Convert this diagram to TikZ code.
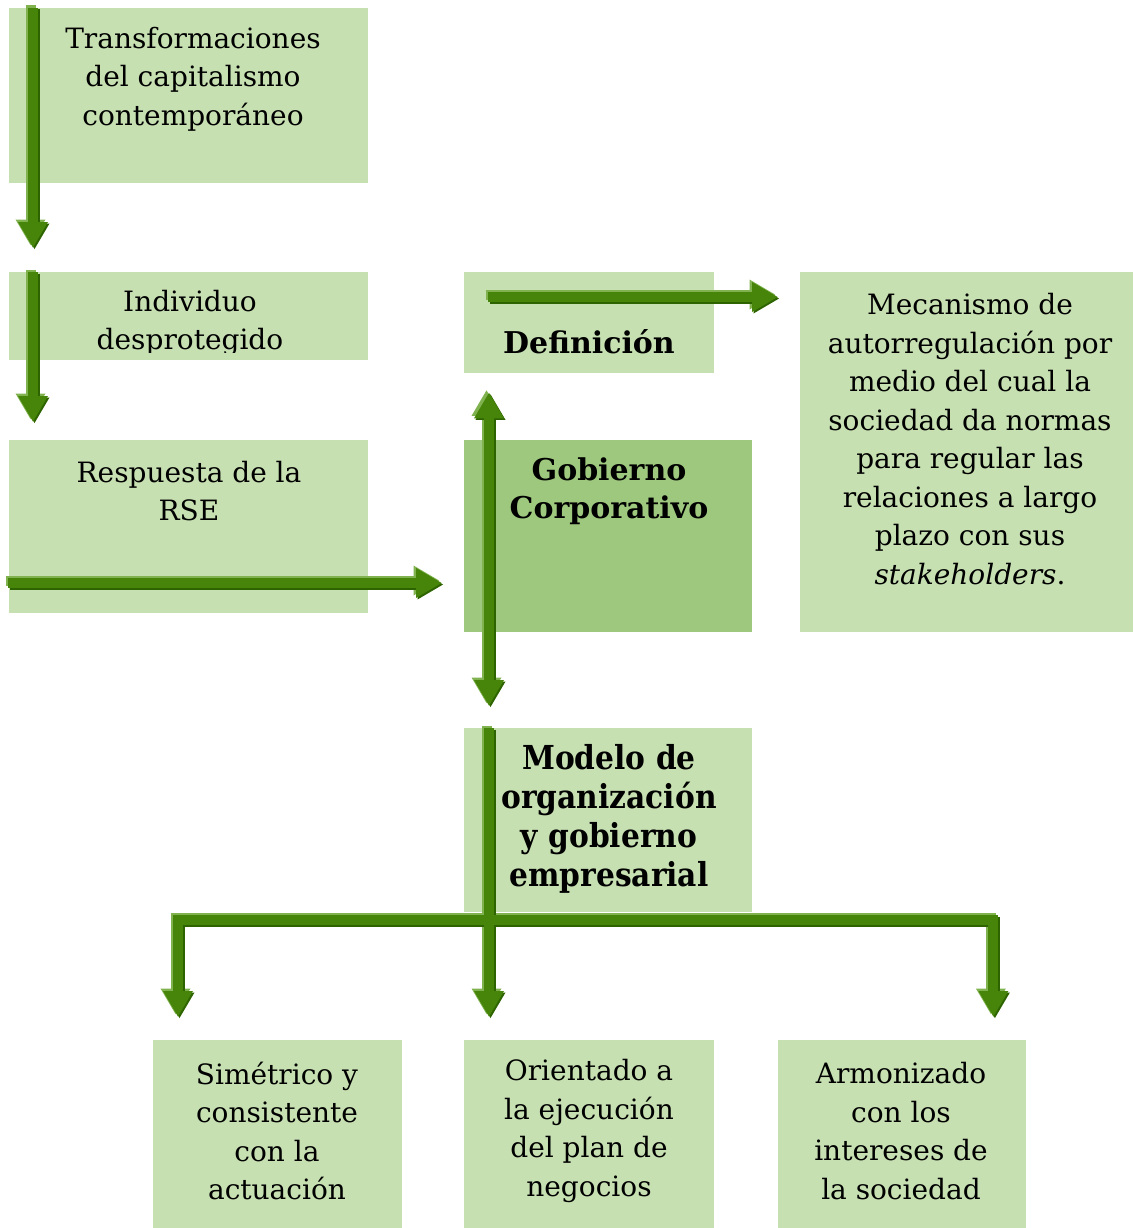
\documentclass[tikz,border=0pt]{standalone}
\usepackage{fontspec}
\setmainfont{DejaVu Serif}
\usetikzlibrary{arrows.meta,calc}
\definecolor{boxlight}{RGB}{198,224,178}
\definecolor{boxdark}{RGB}{158,200,126}
\definecolor{arrmain}{RGB}{70,132,10}
\definecolor{arrlight}{RGB}{128,178,80}
\definecolor{arrdark}{RGB}{46,100,0}
\tikzset{
  box/.style={fill=boxlight, draw=none, anchor=north west, inner sep=0pt},
  boxd/.style={fill=boxdark, draw=none, anchor=north west, inner sep=0pt},
  txt/.style={align=center, inner sep=0pt, font=\fontsize{28}{38.5}\selectfont},
  btxt/.style={txt, font=\fontsize{30}{38.5}\selectfont\bfseries},
  ctxt/.style={txt, font=\fontsize{33}{38.8}\selectfont\bfseries},
  fatlight/.style={draw=arrlight, line width=10pt, line join=miter,
    transform canvas={shift={(-2.5pt,2.5pt)}}},
  fatdark/.style={draw=arrdark, line width=10pt, line join=miter,
    transform canvas={shift={(1.5pt,-1.5pt)}}},
  fat/.style={draw=arrmain, line width=10pt, line join=miter},
  tip/.style={-{Triangle[width=28pt,length=26pt]}},
  tips/.style={{Triangle[width=28pt,length=26pt]}-{Triangle[width=28pt,length=26pt]}},
}
\newcommand{\cond}[1]{\scalebox{0.9}[1]{#1}}
\begin{document}
\begin{tikzpicture}[x=1pt,y=-1pt]
\useasboundingbox (0,0) rectangle (1133,1228);
% boxes
\node[box, minimum width=359pt, minimum height=175pt] (b1) at (9,8) {};
\node[box, minimum width=359pt, minimum height=88pt] (b2) at (9,272) {};
\node[box, minimum width=359pt, minimum height=173pt] (b3) at (9,440) {};
\node[box, minimum width=250pt, minimum height=101pt] (bdef) at (464,272) {};
\node[boxd, minimum width=288pt, minimum height=192pt] (bgob) at (464,440) {};
\node[box, minimum width=333pt, minimum height=360pt] (bmec) at (800,272) {};
\node[box, minimum width=288pt, minimum height=184pt] (bmod) at (464,728) {};
\node[box, minimum width=249pt, minimum height=188pt] (bsim) at (153,1040) {};
\node[box, minimum width=250pt, minimum height=188pt] (bori) at (464,1040) {};
\node[box, minimum width=248pt, minimum height=188pt] (barm) at (778,1040) {};
% texts
\node[txt] (t1) at (193,79) {Transformaciones\\del capitalismo\\contemporáneo};
\begin{scope}
\clip (b2.north west) rectangle ($(b2.south east)+(0,-8)$);
\node[txt] (t2) at (190,323) {Individuo\\desprotegido};
\end{scope}
\node[txt] (t3) at (189,491) {Respuesta de la\\RSE};
\node[btxt] (tdef) at (589,342) {Definición};
\node[btxt] (tgob) at (609,491) {Gobierno\\Corporativo};
\node[txt] (tmec) at (970,439) {Mecanismo de\\autorregulación por\\medio del cual la\\sociedad da normas\\para regular las\\relaciones a largo\\plazo con sus\\\textit{stakeholders}.};
\node[ctxt] (tmod) at (609,819) {\cond{Modelo de}\\\cond{organización}\\\cond{y gobierno}\\\cond{empresarial}};
\node[txt] (tsim) at (277,1131) {Simétrico y\\consistente\\con la\\actuación};
\node[txt] (tori) at (589,1131) {Orientado a\\la ejecución\\del plan de\\negocios};
\node[txt] (tarm) at (901,1131) {Armonizado\\con los\\intereses de\\la sociedad};
% connector end points
\coordinate (a1s) at ($(b1.north west)+(24,0)$);
\coordinate (a1e) at ($(b1.north west)+(24,240)$);
\coordinate (a2s) at ($(b2.north west)+(24,0)$);
\coordinate (a2e) at ($(b2.north west)+(24,150)$);
\coordinate (a3s) at ($(b3.north west)+(-1,143)$);
\coordinate (a3e) at ($(bgob.north west)+(-22,143)$);
\coordinate (a4s) at ($(bdef.north west)+(24,25)$);
\coordinate (a4e) at ($(bmec.north west)+(-22,25)$);
\coordinate (a5s) at ($(bdef.south west)+(25,19)$);
\coordinate (a5e) at ($(bmod.north west)+(25,-22)$);
\coordinate (a6s) at ($(bmod.north west)+(25,0)$);
\coordinate (a6e) at ($(bori.north west)+(25,-23)$);
\coordinate (bl) at ($(bsim.north west)+(25,-23)$);
\coordinate (bm) at ($(bmod.south west)+(25,8)$);
\coordinate (br) at ($(barm.north east)+(-33,-23)$);
% arrows: shading layers first
\foreach \st in {fatlight, fatdark}{
  \foreach \s/\e in {a1s/a1e, a2s/a2e, a3s/a3e, a4s/a4e, a6s/a6e}{
    \draw[\st, tip] (\s) -- (\e);
  }
  \draw[\st, tips] (a5s) -- (a5e);
  \draw[\st, tips] (bl) |- (bm) -| (br);
}
\draw[fat, tips] (bl) |- (bm) -| (br);
\foreach \s/\e in {a1s/a1e, a2s/a2e, a3s/a3e, a4s/a4e, a6s/a6e}{
  \draw[fat, tip] (\s) -- (\e);
}
\draw[fat, tips] (a5s) -- (a5e);
\end{tikzpicture}
\end{document}
